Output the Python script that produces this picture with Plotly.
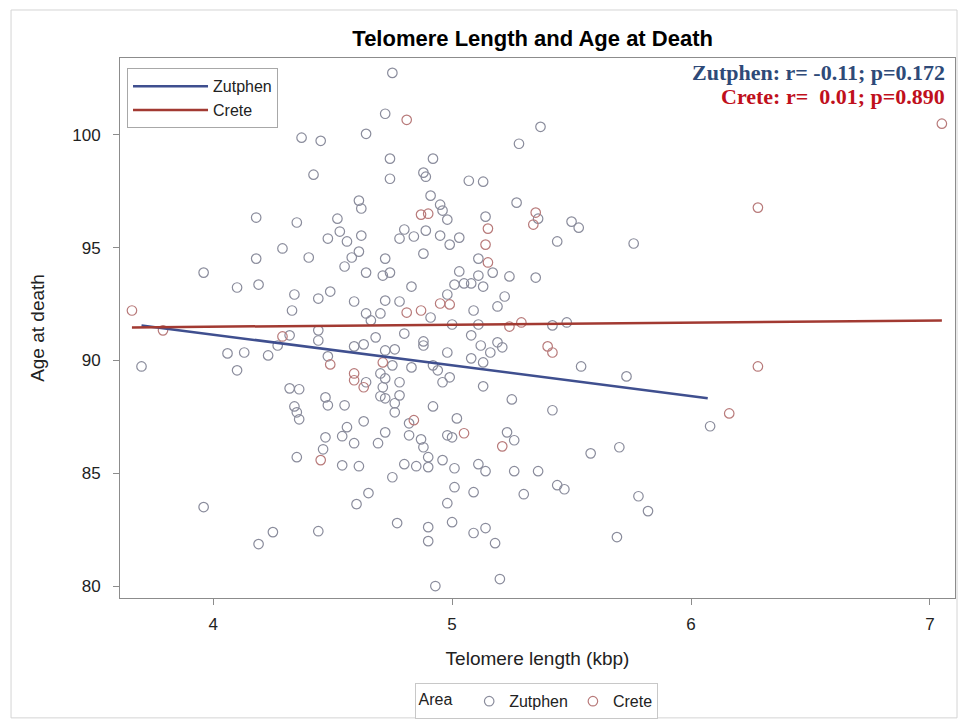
import plotly.graph_objects as go

# ---- data ----
zut_len = [4.37,4.45,4.64,4.72,4.42,4.18,4.35,4.52,4.61,4.62,4.53,4.48,4.56,4.62,4.29,4.18,4.40,4.61,4.58,4.55,
           4.64,4.71,4.72,3.96,4.10,4.19,4.34,4.44,4.49,4.59,4.33,4.64,4.70,4.72,4.74,4.74,4.75,5.37,5.28,4.92,
           4.88,4.89,5.07,5.13,4.91,5.27,4.95,4.96,4.98,5.36,5.50,5.53,5.14,4.80,4.78,4.84,4.89,4.95,5.03,4.99,
           5.44,5.76,4.88,5.11,5.17,4.74,5.03,5.11,5.05,5.08,5.13,5.01,5.24,5.35,4.83,5.22,5.19,4.78,4.98,5.09,
           4.91,5.00,5.11,5.42,5.48,3.70,4.06,4.13,4.23,4.10,4.27,4.32,4.44,4.44,4.48,4.59,4.63,4.68,4.66,4.72,
           4.70,4.72,4.64,4.71,4.70,4.72,4.32,4.36,4.47,4.48,4.55,4.34,4.35,4.36,4.56,4.63,4.54,4.59,4.69,4.72,
           4.47,4.46,4.35,4.54,4.61,4.75,4.65,4.60,3.96,4.25,4.19,4.44,4.80,5.08,4.88,4.88,4.98,5.12,5.19,5.21,
           5.16,5.13,5.08,4.76,4.75,4.83,4.92,4.94,4.96,4.99,5.54,5.73,4.78,4.78,4.76,4.76,5.13,5.25,5.42,4.92,
           5.02,4.82,4.82,4.87,4.88,4.98,5.00,5.23,5.26,5.58,5.70,4.90,4.96,4.80,4.85,4.90,5.01,5.11,5.14,5.26,
           5.36,5.01,5.09,5.30,5.44,5.47,5.78,5.82,4.98,4.77,4.90,5.00,5.09,5.14,4.90,5.18,5.69,4.93,5.20,6.08]
zut_age = [99.87,99.73,100.04,100.93,98.23,96.33,96.11,96.28,97.08,96.73,95.71,95.40,95.27,95.53,94.96,94.51,94.56,94.82,94.56,94.16,
           93.89,93.76,94.51,93.89,93.23,93.36,92.92,92.74,93.05,92.61,92.21,92.08,92.08,92.65,98.94,98.05,102.74,100.35,99.60,98.94,
           98.32,98.14,97.96,97.92,97.30,96.99,96.90,96.64,96.24,96.28,96.15,95.88,96.37,95.80,95.40,95.49,95.75,95.53,95.44,95.13,
           95.27,95.18,94.73,94.51,93.89,93.89,93.94,93.76,93.41,93.41,93.27,93.36,93.72,93.67,93.27,92.83,92.39,92.61,92.92,92.21,
           91.90,91.59,91.59,91.55,91.68,89.73,90.31,90.35,90.22,89.56,90.66,91.11,91.33,90.88,90.18,90.62,90.71,91.02,91.77,90.44,
           89.42,89.20,89.03,88.81,88.41,88.32,88.76,88.72,88.36,88.01,88.01,87.96,87.70,87.39,87.04,87.30,86.64,86.33,86.33,86.81,
           86.59,86.06,85.71,85.35,85.31,84.82,84.12,83.63,83.50,82.39,81.86,82.43,91.19,91.11,90.84,90.66,90.35,90.66,90.80,90.58,
           90.35,89.91,90.09,90.49,89.78,89.69,89.78,89.56,89.03,89.25,89.73,89.29,89.03,88.45,88.10,87.70,88.85,88.27,87.79,87.96,
           87.43,87.21,86.68,86.50,86.15,86.68,86.59,86.81,86.46,85.88,86.15,85.71,85.58,85.40,85.31,85.27,85.22,85.40,85.09,85.09,
           85.09,84.38,84.16,84.07,84.47,84.29,83.98,83.32,83.67,82.79,82.61,82.83,82.35,82.57,81.99,81.90,82.17,80.00,80.31,87.08]

crete_len = [3.66,4.81,4.87,4.90,5.35,5.34,5.15,5.14,5.15,4.95,4.99,4.81,4.87,5.24,5.29,7.05,6.28,3.79,4.29,4.49,
             4.71,4.59,4.59,4.63,4.45,5.40,5.42,4.84,5.05,5.21,6.28,6.16]
crete_age = [92.21,100.66,96.46,96.50,96.55,96.02,95.84,95.13,94.34,92.52,92.48,92.12,92.21,91.50,91.68,100.49,96.77,91.33,91.06,89.82,
             89.91,89.42,89.12,88.81,85.58,90.62,90.35,87.35,86.77,86.19,89.73,87.65]

# fitted regression lines (end points)
zut_fit_len = [3.70, 6.07]
zut_fit_age = [91.55, 88.32]
crete_fit_len = [3.66, 7.05]
crete_fit_age = [91.46, 91.77]

x_ticks = [4, 5, 6, 7]
y_ticks = [80, 85, 90, 95, 100]

ZUT_LINE = "#3f4f8f"
CRETE_LINE = "#a23a32"
ZUT_MARK = "#8a8c9c"
CRETE_MARK = "#b87a7a"
SANS = "Liberation Sans, Arial"
SERIF = "Liberation Serif, Times New Roman"

fig = go.Figure()

fig.add_trace(go.Scatter(x=zut_len, y=zut_age, mode="markers", name="Zutphen", legend="legend2",
                         marker=dict(symbol="circle-open", size=9.5, color=ZUT_MARK, line=dict(width=1.2))))
fig.add_trace(go.Scatter(x=crete_len, y=crete_age, mode="markers", name="Crete", legend="legend2",
                         marker=dict(symbol="circle-open", size=9.5, color=CRETE_MARK, line=dict(width=1.2))))
fig.add_trace(go.Scatter(x=zut_fit_len, y=zut_fit_age, mode="lines", name="Zutphen", legend="legend",
                         line=dict(color=ZUT_LINE, width=2.5)))
fig.add_trace(go.Scatter(x=crete_fit_len, y=crete_fit_age, mode="lines", name="Crete", legend="legend",
                         line=dict(color=CRETE_LINE, width=2.5)))

axis_common = dict(showline=True, linecolor="#8c8c8c", linewidth=1, mirror=True, showgrid=False,
                   zeroline=False, ticks="outside", ticklen=6, tickcolor="#8c8c8c", automargin=False,
                   tickfont=dict(family=SANS, size=17, color="#222"))

fig.update_layout(
    width=958, height=724,
    margin=dict(l=120, r=3, t=58, b=126, autoexpand=False),
    paper_bgcolor="white", plot_bgcolor="white",
    title=dict(text="<b>Telomere Length and Age at Death</b>", x=0.556, xanchor="center", y=0.9475, yanchor="middle",
               font=dict(family=SANS, size=22, color="#000")),
    xaxis=dict(range=[3.61, 7.105], tickvals=x_ticks, ticklabelstandoff=5, **axis_common,
               title=dict(text="Telomere length (kbp)", standoff=18,
                          font=dict(family=SANS, size=19, color="#222"))),
    yaxis=dict(range=[79.47, 103.4], tickvals=y_ticks, ticklabelstandoff=9, **axis_common,
               title=dict(text="Age at death", standoff=22,
                          font=dict(family=SANS, size=19, color="#222"))),
    legend=dict(x=0.0084, y=0.981, xanchor="left", yanchor="top", bgcolor="white",
                bordercolor="#a8a8a8", borderwidth=1, tracegroupgap=0, itemwidth=75,
                font=dict(family=SANS, size=16, color="#222")),
    legend2=dict(orientation="h", x=0.4994, y=-0.158, xanchor="center", yanchor="top", bgcolor="white",
                 bordercolor="#c8c8c8", borderwidth=1,
                 title=dict(text="Area  ", side="left", font=dict(family=SANS, size=16, color="#222")),
                 font=dict(family=SANS, size=16, color="#222")),
    showlegend=True,
)

fig.add_annotation(xref="paper", yref="paper", x=0.990, y=0.974, xanchor="right", yanchor="middle", showarrow=False,
                   text="<b>Zutphen: r= -0.11; p=0.172</b>",
                   font=dict(family=SERIF, size=22, color="#2e4a78"))
fig.add_annotation(xref="paper", yref="paper", x=0.990, y=0.9296, xanchor="right", yanchor="middle", showarrow=False,
                   text="<b>Crete: r=  0.01; p=0.890</b>",
                   font=dict(family=SERIF, size=22, color="#c0101c"))

# light outer frame of the graphic
fig.add_shape(type="rect", xref="paper", yref="paper", x0=-0.1305, x1=1.0024, y0=-0.222, y1=1.0889,
              line=dict(color="#d4d4d4", width=1), fillcolor="rgba(0,0,0,0)", layer="below")

fig.write_html("out.html")
